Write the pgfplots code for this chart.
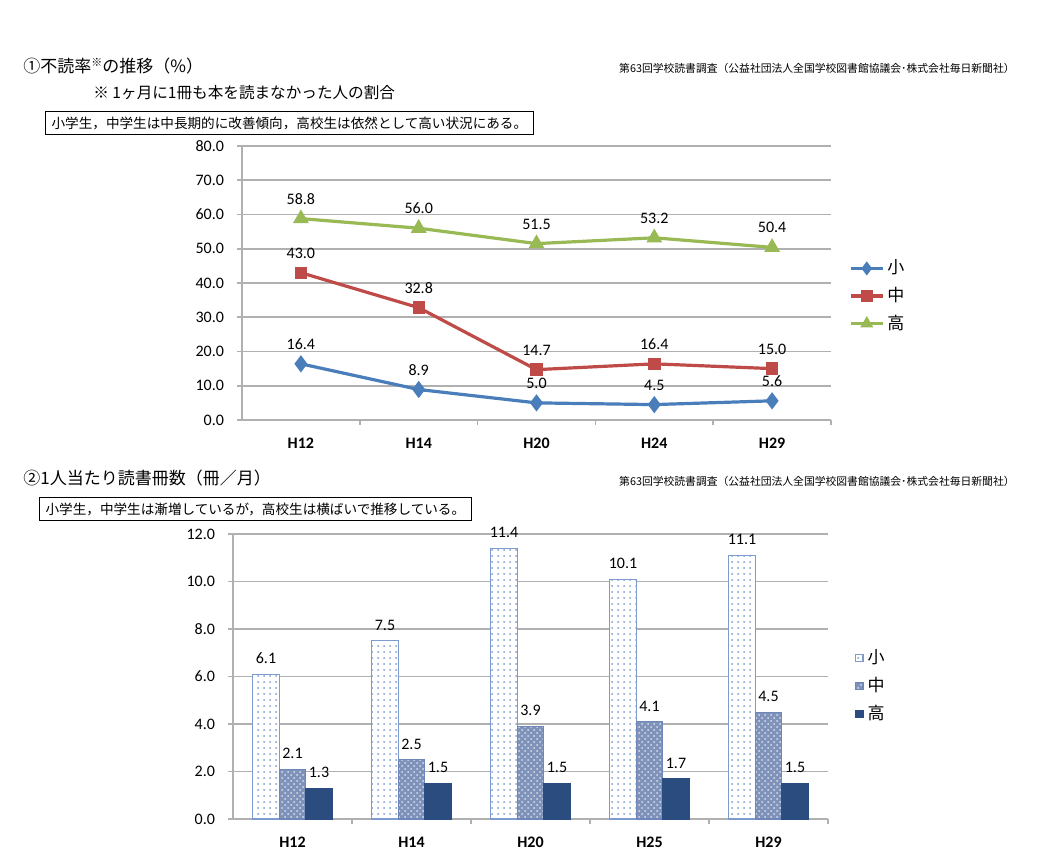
\documentclass[border=0pt]{standalone}
\usepackage{fontspec}
\setmainfont{Carlito}
\newfontfamily\jp{Noto Sans CJK JP}
\usepackage{pgfplots}
\pgfplotsset{compat=1.18}
\usetikzlibrary{patterns}

\definecolor{Sho}{HTML}{4A7EBB}
\definecolor{Chu}{HTML}{BE4B48}
\definecolor{Ko}{HTML}{98B954}
\definecolor{GridGray}{HTML}{B0B0B0}
\definecolor{BarLight}{HTML}{7E9BCF}
\definecolor{BarMid}{HTML}{7F92BA}
\definecolor{BarMidEdge}{HTML}{6F86B8}
\definecolor{BarDark}{HTML}{2B4C7E}

\pgfplotsset{
  /pgf/number format/assume math mode=true,
  excelaxis/.style={
    scale only axis,
    axis x line*=bottom, axis y line*=left,
    axis line style={GridGray, line width=0.8pt},
    xmin=0.5, xmax=5.5,
    xtick={1,...,5},
    major x tick style={draw=none},
    minor xtick={1.5,2.5,3.5,4.5,5.5},
    tick align=outside,
    major tick length=2.5pt,
    minor tick length=2.5pt,
    tick style={GridGray, line width=0.8pt},
    ymajorgrids,
    grid style={GridGray, line width=0.8pt},
    yticklabel={\pgfmathprintnumber[fixed,fixed zerofill,precision=1]{\tick}},
    y tick label style={font=\fontsize{8}{9}\selectfont, xshift=-3pt},
    x tick label style={font=\fontsize{8}{9}\selectfont\bfseries, yshift=-3pt},
    nodes near coords={\pgfmathprintnumber[fixed,fixed zerofill,precision=1]{\pgfplotspointmeta}},
    nodes near coords style={black, font=\fontsize{8}{9}\selectfont},
    legend cell align=left,
    clip=false,
  },
}

\begin{document}
\begin{tikzpicture}[x=0.5pt, y=-0.5pt]
\useasboundingbox (0,0) rectangle (1047,850);

% ---- chart 1 headings
\node[anchor=west, inner sep=0pt] at (23,66) {\jp\fontsize{8.5}{10}\selectfont ①不読率\raisebox{0.35em}{\fontsize{5.5}{6}\selectfont ※}の推移（\%）};
\node[anchor=west, inner sep=0pt] at (93,93) {\jp\fontsize{7.8}{9}\selectfont ※ 1ヶ月に1冊も本を読まなかった人の割合};
\node[anchor=west, draw=black, line width=0.6pt, inner xsep=3pt, inner ysep=2.5pt] at (45,123) {\jp\fontsize{6.8}{8}\selectfont 小学生，中学生は中長期的に改善傾向，高校生は依然として高い状況にある。};
\node[anchor=east, inner sep=0pt] at (1015,68) {\jp\fontsize{5.4}{6}\selectfont 第63回学校読書調査（公益社団法人全国学校図書館協議会･株式会社毎日新聞社）};

% ---- chart 2 headings
\node[anchor=west, inner sep=0pt] at (23,478) {\jp\fontsize{8.5}{10}\selectfont ②1人当たり読書冊数（冊／月）};
\node[anchor=west, draw=black, line width=0.6pt, inner xsep=3pt, inner ysep=2.5pt] at (39,509) {\jp\fontsize{6.8}{8}\selectfont 小学生，中学生は漸増しているが，高校生は横ばいで推移している。};
\node[anchor=east, inner sep=0pt] at (1015,481) {\jp\fontsize{5.4}{6}\selectfont 第63回学校読書調査（公益社団法人全国学校図書館協議会･株式会社毎日新聞社）};

% ---- non-reading rate (line chart)
\begin{axis}[
  excelaxis,
  at={(121pt,-210pt)}, anchor=south west,
  width=294.5pt, height=137pt,
  ymin=0, ymax=80, ytick={0,10,...,80},
  xticklabels={H12,H14,H20,H24,H29},
  every node near coord/.append style={yshift=3pt},
  legend style={at={(1.02,0.615)}, anchor=north west, draw=none, fill=none,
    font=\jp\fontsize{8.5}{9.5}\selectfont, row sep=1.2pt,
    nodes={inner xsep=1.5pt}},
  legend image code/.code={\draw[mark repeat=2, mark phase=2, #1, mark size=2.2pt]
    plot coordinates {(0pt,0pt) (8pt,0pt) (16pt,0pt)};},
]
\addplot[Sho, line width=1.6pt, mark=diamond*, mark size=3pt, mark options={fill=Sho}]
  coordinates {(1,16.4) (2,8.9) (3,5.0) (4,4.5) (5,5.6)};
\addplot[Chu, line width=1.6pt, mark=square*, mark size=2.3pt, mark options={fill=Chu}]
  coordinates {(1,43.0) (2,32.8) (3,14.7) (4,16.4) (5,15.0)};
\addplot[Ko, line width=1.6pt, mark=triangle*, mark size=3pt, mark options={fill=Ko}]
  coordinates {(1,58.8) (2,56.0) (3,51.5) (4,53.2) (5,50.4)};
\legend{小,中,高}
\end{axis}

% ---- books per person (bar chart)
\begin{axis}[
  excelaxis,
  at={(116.5pt,-409.5pt)}, anchor=south west,
  width=297.5pt, height=142.5pt,
  ymin=0, ymax=12, ytick={0,2,...,12},
  xticklabels={H12,H14,H20,H25,H29},
  ybar=0pt, bar width=13.25pt,
  every node near coord/.append style={yshift=1.5pt},
  legend style={at={(1.035,0.625)}, anchor=north west, draw=none, fill=none,
    font=\jp\fontsize{8.5}{9.5}\selectfont, row sep=1.5pt},
  legend image code/.code={\draw[#1] (0pt,-1.8pt) rectangle (3.6pt,1.8pt);},
]
\addplot[draw=BarLight, line width=0.6pt, fill=white, postaction={pattern=dots, pattern color=BarLight}]
  coordinates {(1,6.1) (2,7.5) (3,11.4) (4,10.1) (5,11.1)};
\addplot[draw=BarMidEdge, line width=0.6pt, fill=BarMid, postaction={pattern=crosshatch dots, pattern color=white!70!BarMid}]
  coordinates {(1,2.1) (2,2.5) (3,3.9) (4,4.1) (5,4.5)};
\addplot[draw=BarDark, line width=0.6pt, fill=BarDark]
  coordinates {(1,1.3) (2,1.5) (3,1.5) (4,1.7) (5,1.5)};
\legend{小,中,高}
\end{axis}
\end{tikzpicture}
\end{document}
